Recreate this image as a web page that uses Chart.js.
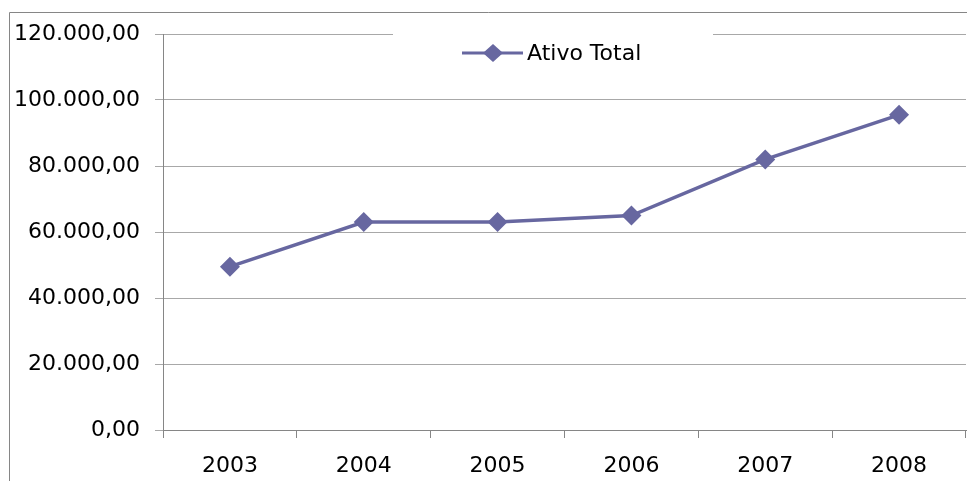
<!DOCTYPE html>
<html>
<head>
<meta charset="utf-8">
<script src="https://cdn.jsdelivr.net/npm/chart.js@4/dist/chart.umd.min.js"></script>
<style>
  html, body { margin: 0; padding: 0; background: #fff; overflow: hidden; }
  #wrap { width: 967px; height: 481px; position: relative; }
</style>
</head>
<body>
<div id="wrap"><canvas id="chart"></canvas></div>
<script>
const anos       = ['2003', '2004', '2005', '2006', '2007', '2008']
const ativoTotal = [49500, 63000, 63000, 65000, 82000, 95500]
const yMin  = 0
const yMax  = 120000
const yStep = 20000

const LINE  = '#6767a0'
const AXIS  = '#868686'
const GRID  = '#a8a8a8'
const FONT  = 'DejaVu Sans'
const SIZE  = 22

// 120000 -> "120.000,00"
function formatBR(v) {
  const inteiro = Math.round(v).toString().replace(/\B(?=(\d{3})+(?!\d))/g, '.')
  return inteiro + ',00'
}

// outer frame of the chart object
const frame = {
  id: 'frame',
  afterDraw(chart) {
    const ctx = chart.ctx
    ctx.save()
    ctx.strokeStyle = AXIS
    ctx.lineWidth = 1
    ctx.beginPath()
    ctx.moveTo(9.5, chart.height + 2)
    ctx.lineTo(9.5, 12.5)
    ctx.lineTo(chart.width + 2, 12.5)
    ctx.stroke()
    ctx.restore()
  }
}

// legend sits inside the plot area, over the top gridline
const innerLegend = {
  id: 'innerLegend',
  afterDraw(chart) {
    const ctx = chart.ctx
    const ds  = chart.data.datasets[0]
    const cy  = 53
    ctx.save()
    ctx.fillStyle = '#fff'
    ctx.fillRect(393, 24, 320, 50)
    ctx.strokeStyle = ds.borderColor
    ctx.lineWidth = 3
    ctx.beginPath()
    ctx.moveTo(462, cy)
    ctx.lineTo(523, cy)
    ctx.stroke()
    ctx.fillStyle = ds.pointBackgroundColor
    ctx.beginPath()
    ctx.moveTo(493, cy - 9)
    ctx.lineTo(503, cy)
    ctx.lineTo(493, cy + 9)
    ctx.lineTo(483, cy)
    ctx.closePath()
    ctx.fill()
    ctx.fillStyle = '#000'
    ctx.font = SIZE + 'px "' + FONT + '"'
    ctx.textBaseline = 'middle'
    ctx.fillText(ds.label, 527, cy + 1)
    ctx.restore()
  }
}

new Chart(document.getElementById('chart'), {
  type: 'line',
  data: {
    labels: anos,
    datasets: [{
      label:                'Ativo Total',
      data:                 ativoTotal,
      borderColor:          LINE,
      backgroundColor:      LINE,
      pointBackgroundColor: LINE,
      pointBorderColor:     LINE,
      borderWidth:          3.5,
      pointStyle:           'rectRot',
      pointRadius:          10,
      pointBorderWidth:     0,
      tension:              0,
      fill:                 false,
    }],
  },
  options: {
    responsive:          true,
    maintainAspectRatio: false,
    animation:           false,
    layout: { autoPadding: false, padding: { left: 0, top: 34, right: 1, bottom: 0 } },
    plugins: {
      legend:  { display: false },
      tooltip: { enabled: false },
    },
    scales: {
      x: {
        offset: true,
        grid:   { offset: true, drawOnChartArea: false, color: AXIS, tickLength: 8 },
        border: { color: AXIS },
        ticks:  { color: '#000', padding: 15, font: { family: FONT, size: SIZE } },
        afterFit: s => {
          s.height = 51
          s.paddingLeft = 0
          s.paddingRight = 0
        },
      },
      y: {
        min: yMin,
        max: yMax,
        grid:   { color: GRID, tickLength: 8 },
        border: { color: AXIS },
        ticks:  {
          stepSize: yStep,
          color:    '#000',
          padding:  15,
          font:     { family: FONT, size: SIZE },
          callback: v => formatBR(v),
        },
        afterFit: s => { s.width = 163 },
      },
    },
  },
  plugins: [frame, innerLegend],
})
</script>
</body>
</html>
